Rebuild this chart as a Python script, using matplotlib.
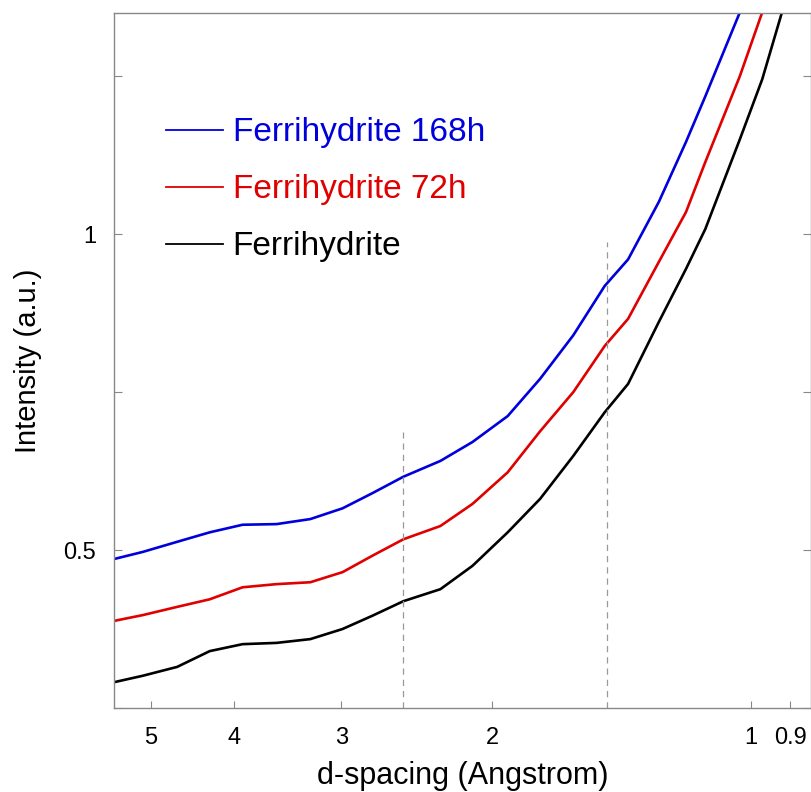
import matplotlib
matplotlib.use('Agg')
import matplotlib.pyplot as plt
from matplotlib.lines import Line2D
from matplotlib.ticker import FixedLocator, NullFormatter, NullLocator

plt.rcParams['font.family'] = ['Liberation Sans', 'DejaVu Sans']

# d-spacing (Angstrom)
d_spacing = [5.51, 5.11, 4.66, 4.27, 3.91, 3.57, 3.26, 2.99, 2.76, 2.54, 2.30,
             2.11, 1.92, 1.76, 1.61, 1.48, 1.39, 1.28, 1.19, 1.13, 1.03, 0.97, 0.92]

fh_168h = [0.486, 0.497, 0.513, 0.528, 0.540, 0.541, 0.549, 0.566, 0.590, 0.616, 0.641,
           0.671, 0.712, 0.771, 0.840, 0.918, 0.960, 1.051, 1.146, 1.218, 1.351]
fh_72h = [0.388, 0.397, 0.410, 0.422, 0.441, 0.446, 0.449, 0.465, 0.491, 0.517, 0.538,
          0.573, 0.623, 0.688, 0.750, 0.823, 0.866, 0.956, 1.035, 1.114, 1.250, 1.351]
fh = [0.291, 0.301, 0.315, 0.340, 0.351, 0.353, 0.359, 0.375, 0.396, 0.419, 0.438,
      0.475, 0.528, 0.581, 0.649, 0.718, 0.763, 0.861, 0.945, 1.008, 1.150, 1.245, 1.351]

labels = ['Ferrihydrite 168h', 'Ferrihydrite 72h', 'Ferrihydrite']
colors = ['#0000dd', '#e00000', 'black']

# dashed markers at the ferrihydrite peaks
peak_d = [2.54, 1.47]
peak_top = [0.687, 0.987]

x_ticks = [5, 4, 3, 2, 1, 0.9]
x_ticklabels = ['5', '4', '3', '2', '1', '0.9']
y_major = [0.5, 1.0]
y_minor = [0.25, 0.75, 1.25]

fig = plt.figure(figsize=(8.11, 7.92), dpi=100)
ax = fig.add_axes([0.1406, 0.1061, 0.8594, 0.8775])

series = [fh_168h, fh_72h, fh]
for vals, c in zip(series, colors):
    ax.plot(d_spacing[:len(vals)], vals, color=c, lw=1.9, solid_capstyle='butt')

for d, top in zip(peak_d, peak_top):
    ax.plot([d, d], [0.25, top], color='#999999', lw=0.9, ls=(0, (5, 4)))

ax.set_xscale('log')
ax.set_xlim(5.52, 0.851)
ax.set_ylim(0.25, 1.35)

ax.xaxis.set_major_locator(FixedLocator(x_ticks))
ax.set_xticklabels(x_ticklabels)
ax.xaxis.set_minor_locator(NullLocator())
ax.xaxis.set_minor_formatter(NullFormatter())
ax.yaxis.set_major_locator(FixedLocator(y_major))
ax.set_yticklabels(['0.5', '1'])
ax.yaxis.set_minor_locator(FixedLocator(y_minor))

ax.tick_params(axis='x', which='both', direction='in', length=5, width=0.8,
               color='#888888', labelsize=17, pad=14, top=False)
ax.tick_params(axis='y', which='both', direction='in', length=6, width=0.8,
               color='#888888', labelsize=17, pad=13, right=True)

for s in ax.spines.values():
    s.set_color('#888888')
    s.set_linewidth(1.0)

ax.set_xlabel('d-spacing (Angstrom)', fontsize=22)
ax.set_ylabel('Intensity (a.u.)', fontsize=21)
ax.xaxis.set_label_coords(0.5, -0.077)
ax.yaxis.set_label_coords(-0.103, 0.5)

handles = [Line2D([], [], color=c, lw=1.3) for c in colors]
ax.legend(handles, labels, loc='upper left', bbox_to_anchor=(0.0746, 0.85),
          frameon=False, fontsize=24, labelcolor=colors, handlelength=1.7,
          handletextpad=0.3, labelspacing=0.78, borderpad=0, borderaxespad=0)

plt.savefig('out.png', dpi=100)
